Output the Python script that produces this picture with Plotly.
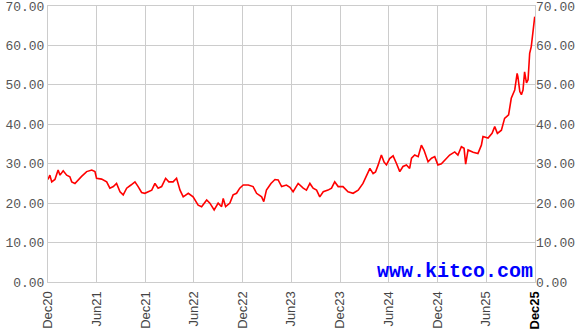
import plotly.graph_objects as go

dates = [
    "2020-12-01", "2020-12-08", "2020-12-15", "2020-12-27", "2021-01-08", "2021-01-15",
    "2021-01-27", "2021-02-09", "2021-02-21", "2021-02-28", "2021-03-12", "2021-03-25",
    "2021-04-06", "2021-04-25", "2021-05-14", "2021-05-26", "2021-06-01", "2021-06-20",
    "2021-07-09", "2021-07-21", "2021-08-03", "2021-08-15", "2021-08-28", "2021-09-09",
    "2021-09-22", "2021-10-08", "2021-10-23", "2021-11-04", "2021-11-17", "2021-11-29",
    "2021-12-12", "2021-12-25", "2022-01-06", "2022-01-18", "2022-01-31", "2022-02-15",
    "2022-02-27", "2022-03-15", "2022-03-28", "2022-04-10", "2022-04-22", "2022-05-11",
    "2022-05-29", "2022-06-17", "2022-06-30", "2022-07-19", "2022-07-31", "2022-08-16",
    "2022-08-31", "2022-09-13", "2022-09-19", "2022-09-28", "2022-10-14", "2022-10-26",
    "2022-11-08", "2022-11-20", "2022-12-03", "2022-12-22", "2023-01-09", "2023-01-22",
    "2023-02-10", "2023-02-18", "2023-02-28", "2023-03-17", "2023-04-01", "2023-04-13",
    "2023-04-26", "2023-05-14", "2023-05-27", "2023-06-08", "2023-06-27", "2023-07-16",
    "2023-07-28", "2023-08-10", "2023-08-22", "2023-09-04", "2023-09-16", "2023-09-29",
    "2023-10-17", "2023-10-30", "2023-11-11", "2023-11-24", "2023-12-12", "2023-12-31",
    "2024-01-19", "2024-02-07", "2024-02-25", "2024-03-09", "2024-03-22", "2024-04-03",
    "2024-04-12", "2024-04-22", "2024-05-04", "2024-05-14", "2024-05-23", "2024-06-04",
    "2024-06-17", "2024-06-30", "2024-07-12", "2024-07-24", "2024-08-06", "2024-08-18",
    "2024-08-25", "2024-09-06", "2024-09-19", "2024-10-01", "2024-10-11", "2024-10-26",
    "2024-11-08", "2024-11-20", "2024-12-02", "2024-12-15", "2024-12-28", "2025-01-15",
    "2025-02-03", "2025-02-15", "2025-02-28", "2025-03-10", "2025-03-16", "2025-03-25",
    "2025-04-13", "2025-05-01", "2025-05-14", "2025-05-20", "2025-06-08", "2025-06-23",
    "2025-07-03", "2025-07-13", "2025-07-28", "2025-08-09", "2025-08-24", "2025-09-03",
    "2025-09-16", "2025-09-25", "2025-09-28", "2025-10-05", "2025-10-11", "2025-10-17",
    "2025-10-23", "2025-10-30", "2025-11-05", "2025-11-11", "2025-11-17", "2025-11-23",
    "2025-11-30",
]

prices = [
    26.0, 27.1, 25.4, 26.0, 28.4, 27.1,
    28.2, 27.1, 26.7, 25.4, 25.0, 26.0,
    26.8, 28.0, 28.4, 28.0, 26.3, 26.1,
    25.4, 23.8, 24.2, 25.0, 22.9, 22.1,
    23.8, 24.6, 25.4, 24.2, 22.7, 22.5,
    22.9, 23.3, 25.0, 23.8, 24.2, 26.3,
    25.4, 25.4, 26.3, 23.3, 21.6, 22.5,
    21.6, 19.5, 19.1, 20.8, 20.0, 18.3,
    20.0, 19.1, 21.2, 19.1, 20.0, 22.1,
    22.5, 23.8, 24.6, 24.6, 24.2, 22.5,
    21.6, 20.4, 23.3, 25.0, 26.0, 25.9,
    24.2, 24.6, 24.0, 22.9, 25.0, 23.8,
    23.3, 25.0, 23.8, 23.3, 21.6, 22.9,
    23.3, 23.8, 25.4, 24.2, 24.2, 22.9,
    22.5, 23.3, 25.0, 26.7, 28.8, 27.5,
    27.9, 29.7, 32.2, 30.4, 29.7, 31.3,
    32.0, 30.0, 28.0, 29.3, 29.7, 28.8,
    31.4, 32.2, 31.8, 34.7, 33.4, 30.5,
    31.4, 31.8, 29.7, 30.0, 30.9, 32.2,
    33.0, 32.2, 34.3, 33.9, 29.9, 33.5,
    32.9, 32.6, 34.7, 36.9, 36.5, 37.7,
    39.4, 37.7, 38.5, 41.5, 42.4, 46.6,
    48.7, 52.9, 52.0, 48.3, 47.5, 48.7,
    53.3, 50.5, 51.3, 58.0, 59.7, 63.9,
    67.3,
]

tick_dates = ["2020-12-01", "2021-06-01", "2021-12-01", "2022-06-01", "2022-12-01",
              "2023-06-01", "2023-12-01", "2024-06-01", "2024-12-01", "2025-06-01",
              "2025-12-01"]
tick_labels = ["Dec20", "Jun21", "Dec21", "Jun22", "Dec22", "Jun23", "Dec23",
               "Jun24", "Dec24", "Jun25", "<b><span style='color:#000000'>Dec25</span></b>"]
y_ticks = [0, 10, 20, 30, 40, 50, 60, 70]

GRID = "#cccccc"
MONO = "Liberation Mono, DejaVu Sans Mono, monospace"

fig = go.Figure()
fig.add_trace(go.Scatter(x=dates, y=prices, mode="lines",
                         line=dict(color="#ff0000", width=1.6), hoverinfo="skip",
                         showlegend=False))
fig.add_trace(go.Scatter(x=dates, y=prices, mode="lines", yaxis="y2",
                         line=dict(color="rgba(0,0,0,0)", width=0), hoverinfo="skip",
                         showlegend=False))

fig.update_layout(
    width=582, height=331,
    margin=dict(l=48, r=47, t=6, b=49),
    paper_bgcolor="white", plot_bgcolor="white",
    xaxis=dict(range=["2020-12-01", "2025-12-01"], tickmode="array",
               tickvals=tick_dates, ticktext=tick_labels, tickangle=-90,
               showgrid=True, gridcolor=GRID, gridwidth=1,
               showline=True, linecolor=GRID, linewidth=1, mirror=True,
               ticks="", ticklen=0, ticklabelstandoff=3, automargin=False,
               ticklabeloverflow="allow",
               tickfont=dict(family="Liberation Sans, Arial", size=13, color="#444444"),
               zeroline=False),
    yaxis=dict(range=[0, 70], tickmode="array", tickvals=y_ticks, tickformat=".2f",
               showgrid=True, gridcolor=GRID, gridwidth=1,
               showline=True, linecolor=GRID, linewidth=1, mirror=True,
               ticks="", zeroline=False, automargin=False, ticklabeloverflow="allow",
               tickfont=dict(family=MONO, size=13, color="#555555")),
    yaxis2=dict(range=[0, 70], tickmode="array", tickvals=y_ticks, tickformat=".2f",
                overlaying="y", side="right", showgrid=False, zeroline=False,
                showline=False, ticks="", automargin=False, ticklabeloverflow="allow",
                tickfont=dict(family=MONO, size=13, color="#555555")),
    annotations=[dict(text="<b>www.kitco.com</b>", xref="paper", yref="paper",
                      x=1, y=0, xanchor="right", yanchor="bottom", showarrow=False,
                      yshift=-3, font=dict(family=MONO, size=20, color="#0000ff"))],
)

fig.write_html("out.html")
